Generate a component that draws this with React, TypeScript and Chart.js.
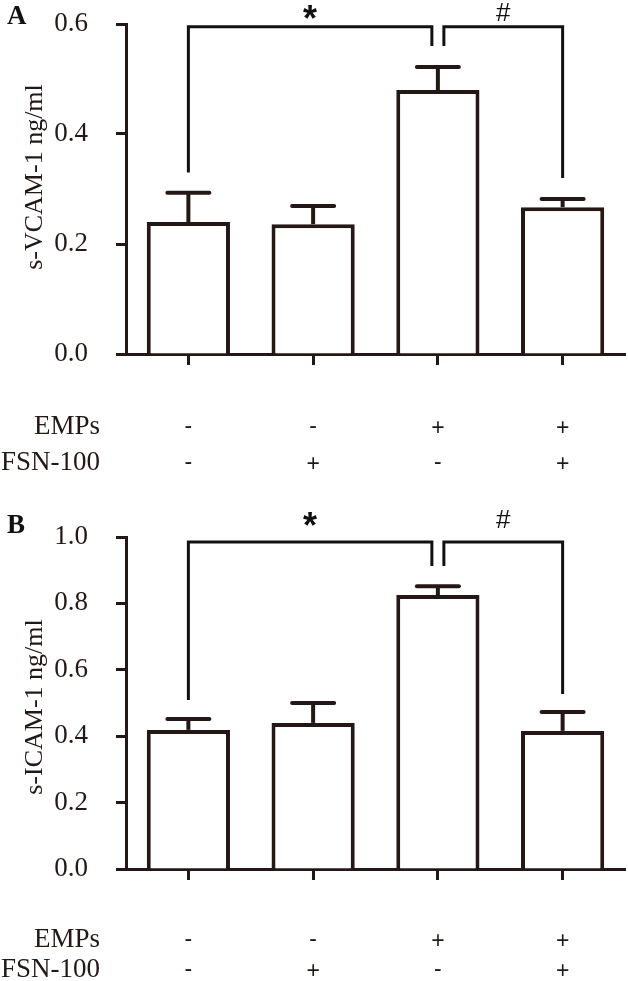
import React, { useEffect, useRef } from 'react';
import { Chart, registerables } from 'chart.js';

Chart.register(...registerables);

// ---------- data ----------
const CATEGORIES = ['Control', 'FSN-100', 'EMPs', 'EMPs + FSN-100'];
const EMPS_SIGNS = ['-', '-', '+', '+'];
const FSN_SIGNS = ['-', '+', '-', '+'];

const VCAM_MEANS = [0.24, 0.236, 0.48, 0.267];
const VCAM_ERRORS = [0.053, 0.033, 0.042, 0.015];
const VCAM_TICKS = [0, 0.2, 0.4, 0.6];

const ICAM_MEANS = [0.419, 0.44, 0.825, 0.416];
const ICAM_ERRORS = [0.033, 0.06, 0.027, 0.057];
const ICAM_TICKS = [0, 0.2, 0.4, 0.6, 0.8, 1.0];

type Bracket = { from: number; to: number; top: number; fromEnd: number; toEnd: number; label: string };

const VCAM_BRACKETS: Bracket[] = [
  { from: 0, to: 2, top: 0.595, fromEnd: 0.33, toEnd: 0.56, label: '*' },
  { from: 2, to: 3, top: 0.595, fromEnd: 0.56, toEnd: 0.32, label: '#' },
];
const ICAM_BRACKETS: Bracket[] = [
  { from: 0, to: 2, top: 0.985, fromEnd: 0.509, toEnd: 0.913, label: '*' },
  { from: 2, to: 3, top: 0.985, fromEnd: 0.913, toEnd: 0.527, label: '#' },
];

// ---------- styling ----------
const INK = '#231815';
const SERIF = "'Liberation Serif', 'Times New Roman', Times, serif";
const SANS = "'Liberation Sans', Arial, sans-serif";

function textCentered(ctx: CanvasRenderingContext2D, text: string, cx: number, cy: number) {
  ctx.textAlign = 'center';
  ctx.textBaseline = 'alphabetic';
  const m = ctx.measureText(text);
  const base = cy + (m.actualBoundingBoxAscent - m.actualBoundingBoxDescent) / 2;
  ctx.fillText(text, cx, base);
}

type PanelOpts = {
  letter: string;
  letterBaseline: number;
  title: string;
  titleShift: number;
  rowOffsets: number[];
  errors: number[];
  brackets: Bracket[];
  labelGap: number;
};

function makeOverlay(p: PanelOpts) {
  return {
    id: 'overlay',
    afterDatasetsDraw(chart: any) {
      const ctx: CanvasRenderingContext2D = chart.ctx;
      const xs = chart.scales.x;
      const ys = chart.scales.y;
      const meta = chart.getDatasetMeta(0);
      const values = chart.data.datasets[0].data as number[];
      const area = chart.chartArea;
      ctx.save();

      // error bars
      ctx.strokeStyle = INK;
      ctx.lineWidth = 4;
      meta.data.forEach((bar: any, i: number) => {
        const top = ys.getPixelForValue(values[i] + p.errors[i]);
        ctx.lineCap = 'butt';
        ctx.beginPath();
        ctx.moveTo(bar.x, bar.y);
        ctx.lineTo(bar.x, top);
        ctx.stroke();
        ctx.lineCap = 'round';
        ctx.beginPath();
        ctx.moveTo(bar.x - 21, top);
        ctx.lineTo(bar.x + 21, top);
        ctx.stroke();
      });

      // significance brackets
      ctx.strokeStyle = '#111111';
      ctx.lineWidth = 3;
      ctx.lineCap = 'butt';
      ctx.lineJoin = 'miter';
      const shared = (idx: number, self: Bracket) =>
        p.brackets.some((b) => b !== self && (b.from === idx || b.to === idx));
      p.brackets.forEach((b) => {
        const x1 = xs.getPixelForValue(b.from) + (shared(b.from, b) ? 6 : 0);
        const x2 = xs.getPixelForValue(b.to) - (shared(b.to, b) ? 6 : 0);
        const yt = ys.getPixelForValue(b.top);
        ctx.beginPath();
        ctx.moveTo(x1, ys.getPixelForValue(b.fromEnd));
        ctx.lineTo(x1, yt);
        ctx.lineTo(x2, yt);
        ctx.lineTo(x2, ys.getPixelForValue(b.toEnd));
        ctx.stroke();
        ctx.fillStyle = '#111111';
        ctx.font = b.label === '*' ? `bold 36px ${SANS}` : `26px ${SANS}`;
        textCentered(ctx, b.label, (x1 + x2) / 2, yt - p.labelGap);
      });

      // y-axis title (rotated)
      ctx.save();
      ctx.translate(35, (area.top + area.bottom) / 2 + p.titleShift);
      ctx.rotate(-Math.PI / 2);
      ctx.fillStyle = INK;
      ctx.font = `26px ${SERIF}`;
      ctx.textAlign = 'center';
      ctx.textBaseline = 'middle';
      ctx.fillText(p.title, 0, 0);
      ctx.restore();

      // panel letter
      ctx.fillStyle = '#111111';
      ctx.font = `bold 27px ${SERIF}`;
      ctx.textAlign = 'left';
      ctx.textBaseline = 'alphabetic';
      ctx.fillText(p.letter, 7, p.letterBaseline);

      // condition rows
      const rows = [
        { name: 'EMPs', signs: EMPS_SIGNS },
        { name: 'FSN-100', signs: FSN_SIGNS },
      ];
      rows.forEach((r, ri) => {
        const cy = area.bottom + p.rowOffsets[ri];
        ctx.fillStyle = INK;
        ctx.font = `27px ${SERIF}`;
        ctx.textAlign = 'right';
        ctx.textBaseline = 'middle';
        ctx.fillText(r.name, 100, cy);
        ctx.font = `23px ${SANS}`;
        r.signs.forEach((s, i) => {
          textCentered(ctx, s, xs.getPixelForValue(i), cy);
        });
      });

      ctx.restore();
    },
  };
}

function makeConfig(means: number[], ticks: number[], padTop: number, xHeight: number, overlay: any): any {
  return {
    type: 'bar',
    data: {
      labels: CATEGORIES,
      datasets: [
        {
          data: means,
          backgroundColor: '#ffffff',
          borderColor: INK,
          borderWidth: 4,
          borderSkipped: 'start',
          categoryPercentage: 1,
          barPercentage: 0.667,
        },
      ],
    },
    options: {
      responsive: false,
      animation: false,
      devicePixelRatio: 1,
      layout: { padding: { top: padTop, right: 3, left: 0, bottom: 0 } },
      plugins: { legend: { display: false }, tooltip: { enabled: false }, title: { display: false } },
      scales: {
        x: {
          type: 'category',
          offset: true,
          grid: {
            display: true,
            offset: false,
            drawOnChartArea: false,
            drawTicks: true,
            tickLength: 11,
            tickWidth: 3,
            color: INK,
          },
          border: { display: true, color: INK, width: 3 },
          ticks: { display: false },
          afterFit: (s: any) => {
            s.height = xHeight;
            s.paddingLeft = 0;
            s.paddingRight = 0;
          },
        },
        y: {
          min: 0,
          max: ticks[ticks.length - 1],
          afterBuildTicks: (s: any) => {
            s.ticks = ticks.map((v) => ({ value: v }));
          },
          grid: {
            display: true,
            drawOnChartArea: false,
            drawTicks: true,
            tickLength: 10,
            tickWidth: 3,
            color: INK,
          },
          border: { display: true, color: INK, width: 3 },
          ticks: {
            color: INK,
            padding: 28,
            font: { family: SERIF, size: 27 },
            callback: (v: any) => Number(v).toFixed(1),
          },
          title: { display: false },
          afterFit: (s: any) => {
            s.width = 126;
            s.paddingTop = 0;
            s.paddingBottom = 0;
          },
        },
      },
    },
    plugins: [overlay],
  };
}

export default function App() {
  const refA = useRef<HTMLCanvasElement>(null);
  const refB = useRef<HTMLCanvasElement>(null);

  useEffect(() => {
    document.body.style.margin = '0';
    let charts: Chart[] = [];
    let cancelled = false;
    const build = () => {
      if (cancelled || !refA.current || !refB.current) return;
      charts.push(
        new Chart(
          refA.current,
          makeConfig(
            VCAM_MEANS,
            VCAM_TICKS,
            24,
            136,
            makeOverlay({
              letter: 'A',
              letterBaseline: 24,
              title: 's-VCAM-1 ng/ml',
              titleShift: -12,
              rowOffsets: [73, 109],
              errors: VCAM_ERRORS,
              brackets: VCAM_BRACKETS,
              labelGap: 15,
            })
          )
        )
      );
      charts.push(
        new Chart(
          refB.current,
          makeConfig(
            ICAM_MEANS,
            ICAM_TICKS,
            47,
            112,
            makeOverlay({
              letter: 'B',
              letterBaseline: 43,
              title: 's-ICAM-1 ng/ml',
              titleShift: 4,
              rowOffsets: [71, 101],
              errors: ICAM_ERRORS,
              brackets: ICAM_BRACKETS,
              labelGap: 23,
            })
          )
        )
      );
    };
    const fonts: any = (document as any).fonts;
    if (fonts && fonts.load) {
      Promise.all([
        fonts.load("27px 'Liberation Serif'"),
        fonts.load("bold 27px 'Liberation Serif'"),
        fonts.load("22px 'Liberation Sans'"),
        fonts.load("bold 36px 'Liberation Sans'"),
      ])
        .catch(() => undefined)
        .then(build);
    } else {
      build();
    }
    return () => {
      cancelled = true;
      charts.forEach((c) => c.destroy());
      charts = [];
    };
  }, []);

  return (
    <div style={{ width: 628, height: 981, background: '#ffffff', position: 'relative' }}>
      <canvas ref={refA} width={628} height={490} style={{ display: 'block', width: 628, height: 490 }} />
      <canvas ref={refB} width={628} height={491} style={{ display: 'block', width: 628, height: 491 }} />
    </div>
  );
}
